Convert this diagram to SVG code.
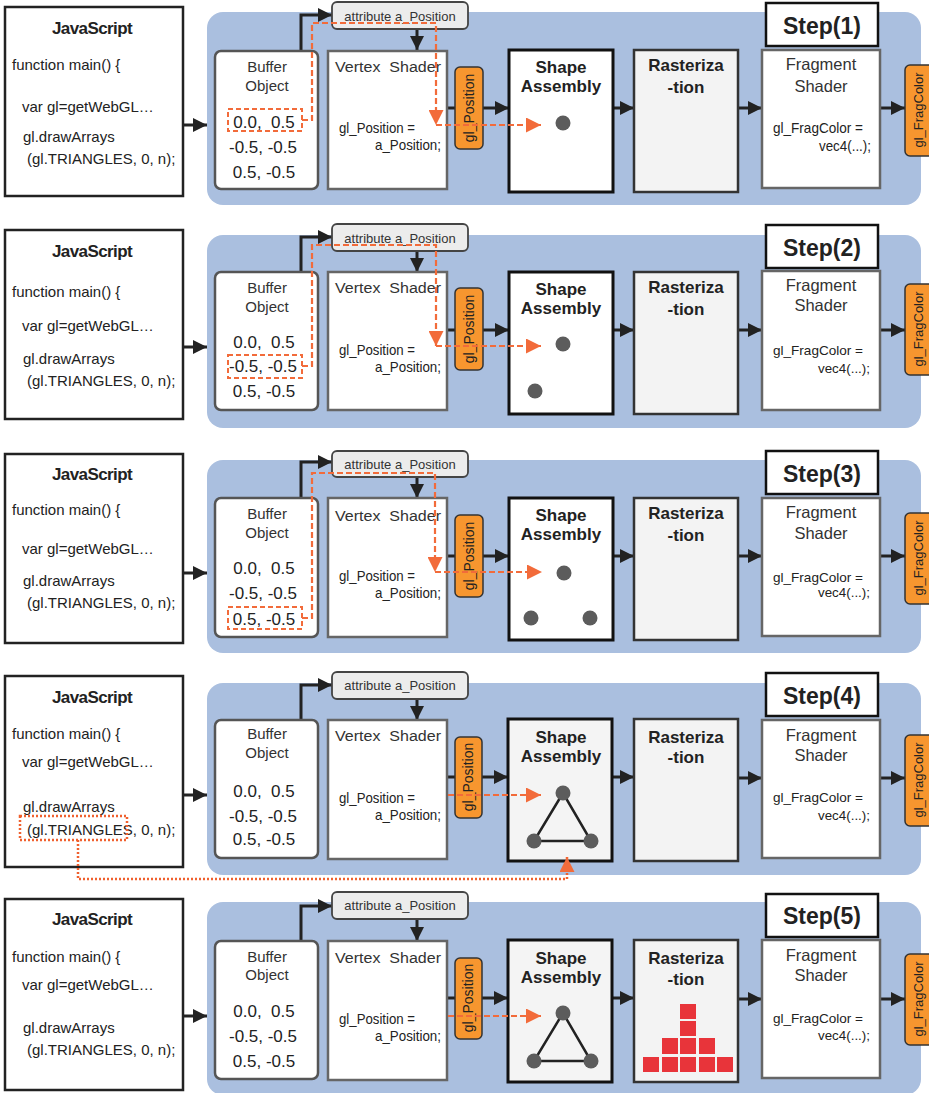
<svg xmlns="http://www.w3.org/2000/svg" width="929" height="1093" viewBox="0 0 929 1093">
<defs>
<marker id="ah" viewBox="0 0 10 10" refX="10" refY="5" markerWidth="14" markerHeight="14" markerUnits="userSpaceOnUse" orient="auto"><path d="M0,0 L10,5 L0,10 Z" fill="#222"/></marker>
<marker id="oh" viewBox="0 0 10 10" refX="10" refY="5" markerWidth="15" markerHeight="15" markerUnits="userSpaceOnUse" orient="auto"><path d="M0,0 L10,5 L0,10 Z" fill="#f26b3a"/></marker>
</defs>
<style>
text{font-family:"Liberation Sans",Arial,Helvetica,sans-serif;fill:#222}
.panel{fill:#aabfdf}
.js{fill:#fff;stroke:#222;stroke-width:2.5}
.buf{fill:#fff;stroke:#555;stroke-width:2.5}
.attr{fill:#ececec;stroke:#444;stroke-width:1.8}
.gbox{fill:#fff;stroke:#666;stroke-width:2.5}
.shape{fill:#fff;stroke:#111;stroke-width:3}
.shape2{fill:#f4f4f4;stroke:#111;stroke-width:3}
.rast{fill:#f3f3f3;stroke:#333;stroke-width:2.5}
.stepb{fill:#fff;stroke:#111;stroke-width:2.5}
.tag{fill:#f7962f;stroke:#333;stroke-width:1.5}
.conn path{fill:none;stroke:#222;stroke-width:3;marker-end:url(#ah)}
.flow{fill:none;stroke:#f26b3a;stroke-width:2.2;stroke-dasharray:6 3}
.fbox{fill:none;stroke:#f26b3a;stroke-width:2;stroke-dasharray:5 3}
.dot{fill:#5c5c5c}
.tri{fill:none;stroke:#222;stroke-width:2.5}
.dotted{fill:none;stroke:#f0602e;stroke-width:2.5;stroke-dasharray:2 2}
.sq{fill:#e8343a}
.t15{font-size:15px}
.jst{font-size:17px;font-weight:bold;letter-spacing:-0.6px;text-anchor:middle}
.lbl{font-size:15px;fill:#333;text-anchor:middle}
.val{font-size:17px;text-anchor:middle;white-space:pre}
.at{font-size:13px;text-anchor:middle;fill:#333}
.vs{font-size:15.5px;fill:#333;white-space:pre}
.code{font-size:15px}
.bold{font-size:17px;font-weight:bold;text-anchor:middle}
.step{font-size:23px;font-weight:bold;text-anchor:middle}
.fs{font-size:16.5px;fill:#333;text-anchor:middle}
.tagt{font-size:14px;text-anchor:middle}
.tagf{font-size:13px;text-anchor:middle}
</style>

<!-- STEP 1 -->
<g id="step1">
<rect class="panel" x="207" y="12" width="714" height="193" rx="16"/>
<g id="s1-connectors" class="conn">
<path d="M183,125 H207"/><path d="M301,51 V15 H332"/><path d="M417,29 V50"/><path d="M447,108 H509"/><path d="M613,108 H634"/><path d="M738,108 H762"/><path d="M880,108 H905"/>
</g>
<g id="s1-js"><rect class="js" x="5" y="7" width="178" height="189"/>
<text class="jst" x="92" y="34">JavaScript</text>
<text class="code" x="12" y="70">function main() {</text>
<text class="code" x="22" y="112">var gl=getWebGL…</text>
<text class="code" x="23" y="142">gl.drawArrays</text>
<text class="code" x="27" y="164">(gl.TRIANGLES, 0, n);</text></g>
<g id="s1-buffer"><rect class="buf" x="215" y="51" width="103" height="138" rx="6"/>
<text class="lbl" x="267" y="72">Buffer</text><text class="lbl" x="267" y="91">Object</text>
<text class="val" x="264" y="128">0.0,  0.5</text><text class="val" x="263" y="153">-0.5, -0.5</text><text class="val" x="264" y="178">0.5, -0.5</text></g>
<g id="s1-attr"><rect class="attr" x="332" y="2" width="136" height="27" rx="5"/><text class="at" x="400" y="21">attribute a_Position</text></g>
<g id="s1-vertex"><rect class="gbox" x="328" y="51" width="119" height="138"/>
<text class="vs" x="335" y="72" textLength="106" lengthAdjust="spacingAndGlyphs">Vertex  Shader</text>
<text class="code" x="339" y="133" textLength="76" lengthAdjust="spacingAndGlyphs">gl_Position =</text>
<text class="code" x="375" y="150" textLength="66" lengthAdjust="spacingAndGlyphs">a_Position;</text></g>
<g id="s1-glpos"><rect class="tag" x="455" y="67" width="28" height="82" rx="5"/><text class="tagt" transform="translate(474,108) rotate(-90)">gl_Position</text></g>
<g id="s1-shape"><rect class="shape" x="509" y="50" width="104" height="142"/>
<text class="bold" x="561" y="73">Shape</text><text class="bold" x="561" y="92">Assembly</text>
<circle class="dot" cx="563" cy="123" r="7.5"/></g>
<g id="s1-raster"><rect class="rast" x="634" y="50" width="104" height="142"/>
<text class="bold" x="686" y="71">Rasteriza</text><text class="bold" x="686" y="93">-tion</text></g>
<g id="s1-step"><rect class="stepb" x="766" y="3" width="112" height="43"/><text class="step" x="822" y="34">Step(1)</text></g>
<g id="s1-frag"><rect class="gbox" x="762" y="50" width="118" height="138"/>
<text class="fs" x="821" y="70">Fragment</text><text class="fs" x="821" y="92">Shader</text>
<text x="773" y="133" font-size="15" textLength="90" lengthAdjust="spacingAndGlyphs">gl_FragColor =</text>
<text x="819" y="151" font-size="15" textLength="52" lengthAdjust="spacingAndGlyphs">vec4(...);</text></g>
<g id="s1-fragcolor"><rect class="tag" x="905" y="65" width="32" height="91" rx="5"/><text class="tagf" transform="translate(923,110) rotate(-90)">gl_FragColor</text></g>
<g id="s1-flow">
<rect class="fbox" x="228" y="109" width="74" height="22"/>
<path class="flow" d="M302,120 H312 V23 H436 V125" marker-end="url(#oh)"/>
<path class="flow" d="M436,125 H541" marker-end="url(#oh)"/>
</g>
</g>

<!-- STEP 2 -->
<g id="step2" transform="translate(0,222)">
<rect class="panel" x="207" y="13" width="714" height="193" rx="16"/>
<g id="s2-connectors" class="conn">
<path d="M183,125 H207"/><path d="M301,51 V15 H332"/><path d="M417,29 V50"/><path d="M447,108 H509"/><path d="M613,108 H634"/><path d="M738,108 H762"/><path d="M880,108 H905"/>
</g>
<g id="s2-js"><rect class="js" x="5" y="8" width="178" height="189"/>
<text class="jst" x="92" y="35">JavaScript</text>
<text class="code" x="12" y="75">function main() {</text>
<text class="code" x="22" y="109">var gl=getWebGL…</text>
<text class="code" x="23" y="142">gl.drawArrays</text>
<text class="code" x="27" y="164">(gl.TRIANGLES, 0, n);</text></g>
<g id="s2-buffer"><rect class="buf" x="215" y="50" width="103" height="138" rx="6"/>
<text class="lbl" x="267" y="71">Buffer</text><text class="lbl" x="267" y="90">Object</text>
<text class="val" x="264" y="126">0.0,  0.5</text><text class="val" x="263" y="150">-0.5, -0.5</text><text class="val" x="264" y="175">0.5, -0.5</text></g>
<g id="s2-attr"><rect class="attr" x="332" y="2" width="136" height="27" rx="5"/><text class="at" x="400" y="21">attribute a_Position</text></g>
<g id="s2-vertex"><rect class="gbox" x="328" y="50" width="119" height="138"/>
<text class="vs" x="335" y="71" textLength="106" lengthAdjust="spacingAndGlyphs">Vertex  Shader</text>
<text class="code" x="339" y="133" textLength="76" lengthAdjust="spacingAndGlyphs">gl_Position =</text>
<text class="code" x="375" y="150" textLength="66" lengthAdjust="spacingAndGlyphs">a_Position;</text></g>
<g id="s2-glpos"><rect class="tag" x="455" y="66" width="28" height="82" rx="5"/><text class="tagt" transform="translate(474,107) rotate(-90)">gl_Position</text></g>
<g id="s2-shape"><rect class="shape" x="509" y="50" width="104" height="142"/>
<text class="bold" x="561" y="73">Shape</text><text class="bold" x="561" y="92">Assembly</text>
<circle class="dot" cx="563" cy="122" r="7.5"/><circle class="dot" cx="535" cy="169" r="7.5"/></g>
<g id="s2-raster"><rect class="rast" x="634" y="50" width="104" height="142"/>
<text class="bold" x="686" y="71">Rasteriza</text><text class="bold" x="686" y="93">-tion</text></g>
<g id="s2-step"><rect class="stepb" x="766" y="3" width="112" height="43"/><text class="step" x="822" y="34">Step(2)</text></g>
<g id="s2-frag"><rect class="gbox" x="762" y="49" width="118" height="139"/>
<text class="fs" x="821" y="69">Fragment</text><text class="fs" x="821" y="89">Shader</text>
<text x="773" y="133" font-size="13" textLength="90" lengthAdjust="spacingAndGlyphs">gl_FragColor =</text>
<text x="818" y="151" font-size="13" textLength="52" lengthAdjust="spacingAndGlyphs">vec4(...);</text></g>
<g id="s2-fragcolor"><rect class="tag" x="905" y="62" width="32" height="91" rx="5"/><text class="tagf" transform="translate(923,107) rotate(-90)">gl_FragColor</text></g>
<g id="s2-flow">
<rect class="fbox" x="228" y="133" width="74" height="23"/>
<path class="flow" d="M302,144 H312 V23 H436 V124" marker-end="url(#oh)"/>
<path class="flow" d="M436,124 H541" marker-end="url(#oh)"/>
</g>
</g>

<!-- STEP 3 -->
<g id="step3" transform="translate(0,448)">
<rect class="panel" x="207" y="12" width="714" height="193" rx="16"/>
<g id="s3-connectors" class="conn">
<path d="M183,125 H207"/><path d="M301,50 V14 H332"/><path d="M417,29 V50"/><path d="M447,108 H509"/><path d="M613,108 H634"/><path d="M738,108 H762"/><path d="M880,108 H905"/>
</g>
<g id="s3-js"><rect class="js" x="5" y="6" width="178" height="189"/>
<text class="jst" x="92" y="32">JavaScript</text>
<text class="code" x="12" y="67">function main() {</text>
<text class="code" x="22" y="106">var gl=getWebGL…</text>
<text class="code" x="23" y="138">gl.drawArrays</text>
<text class="code" x="27" y="160">(gl.TRIANGLES, 0, n);</text></g>
<g id="s3-buffer"><rect class="buf" x="215" y="50" width="103" height="139" rx="6"/>
<text class="lbl" x="267" y="71">Buffer</text><text class="lbl" x="267" y="90">Object</text>
<text class="val" x="264" y="126">0.0,  0.5</text><text class="val" x="263" y="151">-0.5, -0.5</text><text class="val" x="264" y="177">0.5, -0.5</text></g>
<g id="s3-attr"><rect class="attr" x="332" y="3" width="136" height="26" rx="5"/><text class="at" x="400" y="21">attribute a_Position</text></g>
<g id="s3-vertex"><rect class="gbox" x="328" y="50" width="119" height="139"/>
<text class="vs" x="335" y="73" textLength="106" lengthAdjust="spacingAndGlyphs">Vertex  Shader</text>
<text class="code" x="339" y="133" textLength="76" lengthAdjust="spacingAndGlyphs">gl_Position =</text>
<text class="code" x="375" y="150" textLength="66" lengthAdjust="spacingAndGlyphs">a_Position;</text></g>
<g id="s3-glpos"><rect class="tag" x="455" y="67" width="28" height="82" rx="5"/><text class="tagt" transform="translate(474,108) rotate(-90)">gl_Position</text></g>
<g id="s3-shape"><rect class="shape" x="509" y="50" width="104" height="142"/>
<text class="bold" x="561" y="73">Shape</text><text class="bold" x="561" y="92">Assembly</text>
<circle class="dot" cx="564" cy="125" r="7.5"/><circle class="dot" cx="531" cy="170" r="7.5"/><circle class="dot" cx="590" cy="170" r="7.5"/></g>
<g id="s3-raster"><rect class="rast" x="634" y="50" width="104" height="142"/>
<text class="bold" x="686" y="71">Rasteriza</text><text class="bold" x="686" y="93">-tion</text></g>
<g id="s3-step"><rect class="stepb" x="766" y="3" width="112" height="43"/><text class="step" x="822" y="34">Step(3)</text></g>
<g id="s3-frag"><rect class="gbox" x="762" y="50" width="118" height="138"/>
<text class="fs" x="821" y="70">Fragment</text><text class="fs" x="821" y="91">Shader</text>
<text x="773" y="134" font-size="13" textLength="90" lengthAdjust="spacingAndGlyphs">gl_FragColor =</text>
<text x="818" y="149" font-size="13" textLength="52" lengthAdjust="spacingAndGlyphs">vec4(...);</text></g>
<g id="s3-fragcolor"><rect class="tag" x="905" y="65" width="32" height="91" rx="5"/><text class="tagf" transform="translate(923,110) rotate(-90)">gl_FragColor</text></g>
<g id="s3-flow">
<rect class="fbox" x="228" y="159" width="74" height="22"/>
<path class="flow" d="M302,170 H312 V25 H435 V124" marker-end="url(#oh)"/>
<path class="flow" d="M435,124 H542" marker-end="url(#oh)"/>
</g>
</g>

<!-- STEP 4 -->
<g id="step4" transform="translate(0,670)">
<rect class="panel" x="207" y="13" width="714" height="192" rx="16"/>
<g id="s4-connectors" class="conn">
<path d="M183,125 H207"/><path d="M301,50 V15 H332"/><path d="M417,29 V50"/><path d="M447,107 H508"/><path d="M612,107 H634"/><path d="M738,108 H762"/><path d="M880,108 H905"/>
</g>
<g id="s4-js"><rect class="js" x="5" y="6" width="178" height="191"/>
<text class="jst" x="92" y="33">JavaScript</text>
<text class="code" x="12" y="69">function main() {</text>
<text class="code" x="22" y="97">var gl=getWebGL…</text>
<text class="code" x="23" y="142">gl.drawArrays</text>
<text class="code" x="27" y="165">(gl.TRIANGLES, 0, n);</text></g>
<g id="s4-buffer"><rect class="buf" x="215" y="50" width="103" height="138" rx="6"/>
<text class="lbl" x="267" y="69">Buffer</text><text class="lbl" x="267" y="88">Object</text>
<text class="val" x="264" y="127">0.0,  0.5</text><text class="val" x="263" y="152">-0.5, -0.5</text><text class="val" x="264" y="175">0.5, -0.5</text></g>
<g id="s4-attr"><rect class="attr" x="332" y="2" width="136" height="27" rx="5"/><text class="at" x="400" y="20">attribute a_Position</text></g>
<g id="s4-vertex"><rect class="gbox" x="328" y="50" width="119" height="139"/>
<text class="vs" x="335" y="71" textLength="106" lengthAdjust="spacingAndGlyphs">Vertex  Shader</text>
<text class="code" x="339" y="133" textLength="76" lengthAdjust="spacingAndGlyphs">gl_Position =</text>
<text class="code" x="375" y="150" textLength="66" lengthAdjust="spacingAndGlyphs">a_Position;</text></g>
<g id="s4-glpos"><rect class="tag" x="455" y="67" width="27" height="81" rx="5"/><text class="tagt" transform="translate(473,107) rotate(-90)">gl_Position</text></g>
<g id="s4-shape"><rect class="shape2" x="508" y="49" width="104" height="142"/>
<text class="bold" x="561" y="73">Shape</text><text class="bold" x="561" y="92">Assembly</text>
<path class="tri" d="M563,123 L534,171 L591,171 Z"/>
<circle class="dot" cx="563" cy="123" r="7.5"/><circle class="dot" cx="534" cy="171" r="7.5"/><circle class="dot" cx="591" cy="171" r="7.5"/></g>
<g id="s4-raster"><rect class="rast" x="634" y="49" width="104" height="142"/>
<text class="bold" x="686" y="73">Rasteriza</text><text class="bold" x="686" y="93">-tion</text></g>
<g id="s4-step"><rect class="stepb" x="766" y="3" width="112" height="43"/><text class="step" x="822" y="34">Step(4)</text></g>
<g id="s4-frag"><rect class="gbox" x="762" y="50" width="118" height="138"/>
<text class="fs" x="821" y="71">Fragment</text><text class="fs" x="821" y="91">Shader</text>
<text x="773" y="132" font-size="13" textLength="90" lengthAdjust="spacingAndGlyphs">gl_FragColor =</text>
<text x="818" y="150" font-size="13" textLength="52" lengthAdjust="spacingAndGlyphs">vec4(...);</text></g>
<g id="s4-fragcolor"><rect class="tag" x="905" y="65" width="32" height="91" rx="5"/><text class="tagf" transform="translate(923,110) rotate(-90)">gl_FragColor</text></g>
<g id="s4-flow">
<path class="flow" d="M448,125 H541" marker-end="url(#oh)"/>
<rect class="dotted" x="20" y="146" width="107" height="24"/>
<path class="dotted" d="M78,170 V209 H567 V187" marker-end="url(#oh)"/>
</g>
</g>

<!-- STEP 5 -->
<g id="step5" transform="translate(0,891)">
<rect class="panel" x="207" y="11" width="714" height="193" rx="16"/>
<g id="s5-connectors" class="conn">
<path d="M183,125 H207"/><path d="M301,50 V15 H332"/><path d="M417,29 V50"/><path d="M447,107 H508"/><path d="M612,107 H634"/><path d="M738,108 H762"/><path d="M880,108 H905"/>
</g>
<g id="s5-js"><rect class="js" x="5" y="8" width="178" height="191"/>
<text class="jst" x="92" y="34">JavaScript</text>
<text class="code" x="12" y="71">function main() {</text>
<text class="code" x="22" y="99">var gl=getWebGL…</text>
<text class="code" x="23" y="142">gl.drawArrays</text>
<text class="code" x="27" y="164">(gl.TRIANGLES, 0, n);</text></g>
<g id="s5-buffer"><rect class="buf" x="215" y="50" width="103" height="138" rx="6"/>
<text class="lbl" x="267" y="71">Buffer</text><text class="lbl" x="267" y="89">Object</text>
<text class="val" x="264" y="126">0.0,  0.5</text><text class="val" x="263" y="151">-0.5, -0.5</text><text class="val" x="264" y="176">0.5, -0.5</text></g>
<g id="s5-attr"><rect class="attr" x="332" y="1" width="136" height="27" rx="5"/><text class="at" x="400" y="19">attribute a_Position</text></g>
<g id="s5-vertex"><rect class="gbox" x="328" y="50" width="119" height="139"/>
<text class="vs" x="335" y="72" textLength="106" lengthAdjust="spacingAndGlyphs">Vertex  Shader</text>
<text class="code" x="339" y="133" textLength="76" lengthAdjust="spacingAndGlyphs">gl_Position =</text>
<text class="code" x="375" y="150" textLength="66" lengthAdjust="spacingAndGlyphs">a_Position;</text></g>
<g id="s5-glpos"><rect class="tag" x="455" y="67" width="27" height="81" rx="5"/><text class="tagt" transform="translate(473,107) rotate(-90)">gl_Position</text></g>
<g id="s5-shape"><rect class="shape2" x="508" y="49" width="104" height="142"/>
<text class="bold" x="561" y="73">Shape</text><text class="bold" x="561" y="92">Assembly</text>
<path class="tri" d="M563,122 L534,170 L591,170 Z"/>
<circle class="dot" cx="563" cy="122" r="7.5"/><circle class="dot" cx="534" cy="170" r="7.5"/><circle class="dot" cx="591" cy="170" r="7.5"/></g>
<g id="s5-raster"><rect class="rast" x="634" y="49" width="104" height="142"/>
<text class="bold" x="686" y="73">Rasteriza</text><text class="bold" x="686" y="94">-tion</text>
<rect class="sq" x="680" y="113" width="16" height="15"/>
<rect class="sq" x="680" y="130" width="16" height="15"/>
<rect class="sq" x="662" y="147" width="16" height="16"/><rect class="sq" x="680" y="147" width="16" height="16"/><rect class="sq" x="699" y="147" width="16" height="16"/>
<rect class="sq" x="643" y="166" width="16" height="15"/><rect class="sq" x="662" y="166" width="16" height="15"/><rect class="sq" x="680" y="166" width="16" height="15"/><rect class="sq" x="699" y="166" width="16" height="15"/><rect class="sq" x="717" y="166" width="16" height="15"/></g>
<g id="s5-step"><rect class="stepb" x="766" y="3" width="112" height="43"/><text class="step" x="822" y="33">Step(5)</text></g>
<g id="s5-frag"><rect class="gbox" x="762" y="49" width="118" height="138"/>
<text class="fs" x="821" y="70">Fragment</text><text class="fs" x="821" y="90">Shader</text>
<text x="773" y="132" font-size="13" textLength="90" lengthAdjust="spacingAndGlyphs">gl_FragColor =</text>
<text x="818" y="149" font-size="13" textLength="52" lengthAdjust="spacingAndGlyphs">vec4(...);</text></g>
<g id="s5-fragcolor"><rect class="tag" x="905" y="63" width="32" height="91" rx="5"/><text class="tagf" transform="translate(923,108) rotate(-90)">gl_FragColor</text></g>
<g id="s5-flow">
<path class="flow" d="M448,125 H541" marker-end="url(#oh)"/>
</g>
</g>
</svg>
